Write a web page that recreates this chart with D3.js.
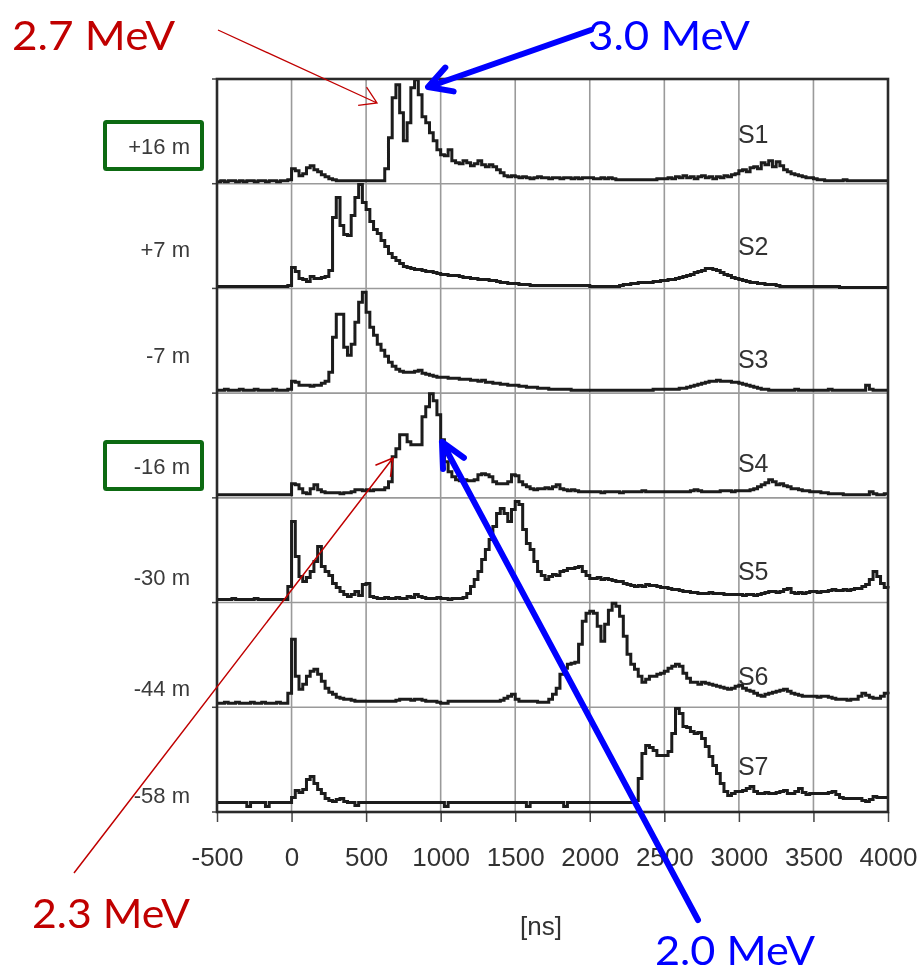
<!DOCTYPE html>
<html>
<head>
<meta charset="utf-8">
<script src="https://cdn.jsdelivr.net/npm/d3@7"></script>
<style>
  html, body { margin: 0; padding: 0; background: #fff; }
  svg { display: block; }
</style>
</head>
<body>
<svg id="chart" width="922" height="976"></svg>
<script>
// ---- data ---------------------------------------------------------------
const stations  = ["S1", "S2", "S3", "S4", "S5", "S6", "S7"];
const distances = ["+16 m", "+7 m", "-7 m", "-16 m", "-30 m", "-44 m", "-58 m"];
const boxedDistances = ["+16 m", "-16 m"];
const timeTicks = [-500, 0, 500, 1000, 1500, 2000, 2500, 3000, 3500, 4000];
const binStart = -500;   // ns, first histogram bin
const binWidth = 25;     // ns per bin

// counts per 25 ns bin, -500 .. 4000 ns (arbitrary units)
const s1 = [
  1,2,1,2,2,1,2,1,2,2,1,2,2,1,2,2,1,2,2,3,
  14,12,7,9,15,17,13,11,8,6,4,3,2,2,2,2,2,2,2,2,
  2,2,2,2,2,14,45,85,98,70,42,60,95,103,88,66,60,50,42,33,
  28,27,33,22,20,19,22,20,17,19,22,18,16,18,16,13,10,7,6,7,
  6,5,6,5,4,5,6,5,5,4,5,5,4,5,5,4,5,4,5,5,
  5,4,4,5,4,5,4,3,3,3,3,3,3,3,3,3,3,3,4,4,
  4,5,4,6,5,7,5,6,4,6,7,5,6,4,6,5,7,6,8,9,
  12,13,11,15,16,14,20,18,22,16,21,17,13,11,9,8,7,6,5,5,
  4,3,3,2,2,2,2,2,3,2,2,2,2,2,2,2,2,2,2,2,
  2
];
const s2 = [
  1,1,1,1,1,1,1,1,1,1,1,1,1,1,1,1,1,1,1,2,
  20,16,9,8,6,11,9,9,10,11,17,70,90,62,53,52,72,90,103,85,
  78,66,58,54,47,41,34,30,27,24,21,20,19,18,18,17,16,16,15,14,
  13,13,12,12,12,11,10,10,9,9,8,8,8,7,7,6,5,5,4,4,
  4,3,3,3,2,2,2,2,2,2,2,2,2,2,2,2,2,2,2,2,
  1,1,1,1,1,1,1,1,2,3,3,4,4,5,5,5,5,6,6,7,
  7,8,8,9,10,11,12,13,15,16,17,19,19,18,17,15,13,12,10,9,
  8,7,6,5,5,4,4,3,3,3,2,1,1,1,1,1,1,1,1,1,
  1,1,1,1,1,1,1,0,0,0,0,0,0,0,0,0,0,0,0,0,
  0
];
const s3 = [
  2,2,3,2,2,2,3,2,2,2,3,2,2,2,2,3,2,2,2,3,
  11,10,7,7,7,6,7,7,9,11,20,55,78,78,45,37,48,70,90,100,
  80,65,57,48,42,36,30,26,23,21,20,20,20,21,22,19,18,17,16,15,
  15,15,14,14,14,13,13,13,12,12,11,12,10,10,9,9,8,8,7,7,
  7,6,6,5,5,5,4,4,4,3,3,3,3,3,3,2,2,2,2,2,
  2,2,2,2,2,2,2,2,2,2,2,2,2,2,2,2,2,3,3,3,
  3,3,3,3,4,4,5,6,7,8,9,10,11,11,12,11,11,11,10,10,
  9,8,7,6,5,4,3,3,2,2,2,2,2,2,2,3,2,2,2,2,
  2,2,2,2,3,2,2,2,2,2,2,2,2,2,7,3,2,2,2,2,
  2
];
const s4 = [
  2,2,2,2,2,2,2,2,2,2,2,2,2,2,2,2,2,2,2,2,
  13,12,8,4,3,8,12,7,5,4,4,4,4,3,4,4,5,7,7,6,
  7,6,7,7,7,9,15,40,48,62,62,55,52,52,52,80,90,103,96,82,
  57,35,25,20,17,16,17,16,16,17,22,23,22,20,15,13,13,13,15,22,
  21,15,12,10,8,7,8,8,9,8,10,12,8,7,6,7,6,5,5,5,
  5,5,5,4,5,5,5,5,4,5,5,5,5,5,6,5,5,5,5,5,
  5,5,5,5,5,5,5,6,7,6,5,5,5,5,5,6,6,6,5,6,
  6,6,6,7,8,10,12,14,17,15,12,13,11,10,8,8,7,6,6,5,
  5,5,4,4,3,3,3,3,2,2,2,2,2,2,2,5,3,2,2,3,
  3
];
const s5 = [
  2,2,2,2,3,2,2,2,2,2,3,2,2,2,2,2,2,2,2,15,
  80,45,25,20,24,30,40,55,35,30,26,18,14,10,7,5,7,10,6,17,
  18,5,4,3,3,4,3,3,4,3,3,5,4,7,5,4,3,3,3,4,
  3,3,2,3,3,3,4,8,15,22,30,42,52,62,75,88,93,88,80,92,
  100,97,72,58,52,40,30,26,22,25,27,26,30,31,33,33,34,35,30,26,
  23,23,24,22,23,22,21,20,20,18,17,16,15,16,15,17,16,16,15,14,
  14,13,12,12,11,10,10,9,9,8,8,8,9,8,8,8,7,7,7,7,
  7,6,7,7,6,7,8,9,10,10,9,10,12,13,9,8,9,8,9,10,
  10,9,10,10,11,12,11,11,12,11,12,13,13,15,17,22,30,25,18,14,
  13
];
const s6 = [
  3,3,4,3,3,4,3,3,3,4,3,3,4,3,3,3,4,3,3,13,
  67,30,17,22,30,35,37,32,25,18,14,12,9,8,7,7,6,5,5,5,
  5,5,5,5,5,5,5,5,6,7,7,7,6,7,7,6,5,5,5,4,
  3,3,5,5,5,5,5,5,5,5,5,5,5,5,5,5,6,8,10,12,
  7,5,5,5,5,5,4,4,4,7,12,18,32,38,42,43,44,62,85,93,
  95,93,80,65,82,96,103,100,90,70,52,42,37,30,24,27,30,30,32,33,
  35,38,40,42,40,33,28,24,24,22,24,23,22,21,20,19,18,17,18,20,
  21,18,16,15,13,11,10,12,13,14,15,16,17,15,13,12,11,10,10,10,
  10,9,10,10,9,8,7,7,7,6,7,7,10,13,11,9,8,8,10,13,
  12
];
const s7 = [
  1,1,1,1,1,1,1,1,-3,1,1,1,1,-3,1,1,1,1,1,1,
  6,13,11,14,24,27,20,14,10,5,3,2,4,5,2,1,1,-2,1,1,
  1,1,1,1,1,1,1,1,1,1,1,1,1,1,1,1,1,1,1,1,
  1,-3,1,1,1,1,1,1,1,1,1,1,1,1,1,1,1,1,1,1,
  1,1,1,-3,1,1,1,1,1,1,1,1,1,-3,1,1,1,1,1,1,
  1,1,1,1,1,1,1,1,1,1,1,1,3,25,50,58,56,53,48,48,
  48,52,70,95,90,77,76,72,70,71,65,57,47,38,30,20,12,8,10,12,
  12,13,15,17,12,10,10,11,10,10,11,12,13,10,10,12,15,11,9,10,
  10,10,10,10,11,12,9,6,5,5,5,5,5,3,2,4,7,6,6,6,
  6
];
const traces = [s1, s2, s3, s4, s5, s6, s7];

// energy call-outs
const energyLabels = ["2.7 MeV", "3.0 MeV", "2.3 MeV", "2.0 MeV"];

// ---- layout -------------------------------------------------------------
const plot = { left: 217, right: 888, top: 79, bottom: 812 };
const baseLift = [1, 1, 1, 1, 1, 1, 8.5];          // trace zero above panel floor
const distanceLabelY = [146, 249, 355, 466, 577, 688, 795];
const stationLabelY  = [143, 255, 368, 472, 580, 685, 775];

const svg = d3.select("#chart");
const defs = svg.append("defs");
defs.append("filter").attr("id", "soft")
  .attr("x", "-5%").attr("y", "-5%").attr("width", "110%").attr("height", "110%")
  .append("feGaussianBlur").attr("stdDeviation", 0.55);

const x = d3.scaleLinear().domain([timeTicks[0], timeTicks[timeTicks.length - 1]])
  .range([plot.left, plot.right]);
const panelEdge = d3.scaleLinear().domain([0, stations.length])
  .range([plot.top, plot.bottom]);

const chart = svg.append("g").attr("filter", "url(#soft)");
const font = "'Liberation Sans', Arial, Helvetica, sans-serif";

// vertical grid
chart.append("g").selectAll("line")
  .data(timeTicks.slice(1, -1))
  .join("line")
  .attr("x1", d => x(d)).attr("x2", d => x(d))
  .attr("y1", plot.top).attr("y2", plot.bottom)
  .attr("stroke", "#9a9a9a").attr("stroke-width", 1.6);

// panel separators
chart.append("g").selectAll("line")
  .data(d3.range(1, stations.length))
  .join("line")
  .attr("x1", plot.left).attr("x2", plot.right)
  .attr("y1", i => panelEdge(i)).attr("y2", i => panelEdge(i))
  .attr("stroke", "#9a9a9a").attr("stroke-width", 1.6);

// bottom axis
const xAxis = d3.axisBottom(x).tickValues(timeTicks)
  .tickSize(10).tickPadding(26).tickSizeOuter(0).tickFormat(d => String(d));
const axisG = chart.append("g")
  .attr("transform", `translate(0,${plot.bottom})`)
  .call(xAxis);
axisG.select(".domain").remove();
axisG.selectAll(".tick line").attr("stroke", "#444").attr("stroke-width", 1.5);
axisG.selectAll(".tick text")
  .attr("fill", "#333").style("font-family", font).style("font-size", "26px");

// small ticks on the left frame
chart.append("g").selectAll("line")
  .data(d3.range(0, stations.length + 1))
  .join("line")
  .attr("x1", plot.left - 5).attr("x2", plot.left)
  .attr("y1", i => panelEdge(i)).attr("y2", i => panelEdge(i))
  .attr("stroke", "#444").attr("stroke-width", 1.5);

// traces
traces.forEach((vals, i) => {
  const base = panelEdge(i + 1) - baseLift[i];
  const y = d3.scaleLinear().domain([0, 100]).range([base, base - 100]);
  const line = d3.line()
    .x((d, j) => x(binStart + j * binWidth))
    .y(d => y(d))
    .curve(d3.curveStepAfter);
  chart.append("path")
    .datum(vals)
    .attr("d", line)
    .attr("fill", "none")
    .attr("stroke", "#1a1a1a")
    .attr("stroke-width", 3)
    .attr("stroke-linejoin", "miter");
});

// frame
chart.append("rect")
  .attr("x", plot.left).attr("y", plot.top)
  .attr("width", plot.right - plot.left).attr("height", plot.bottom - plot.top)
  .attr("fill", "none").attr("stroke", "#2a2a2a").attr("stroke-width", 2.6);

// station labels
chart.append("g").selectAll("text")
  .data(stations)
  .join("text")
  .attr("x", x(3000) - 1)
  .attr("y", (d, i) => stationLabelY[i])
  .attr("fill", "#333")
  .style("font-family", font).style("font-size", "25px")
  .text(d => d);

// distance labels
chart.append("g").selectAll("text")
  .data(distances)
  .join("text")
  .attr("x", 190)
  .attr("y", (d, i) => distanceLabelY[i])
  .attr("text-anchor", "end")
  .attr("dominant-baseline", "central")
  .attr("fill", "#3a3a3a")
  .style("font-family", font).style("font-size", "22px")
  .text(d => d);

// axis title
chart.append("text")
  .attr("x", 541).attr("y", 935)
  .attr("text-anchor", "middle")
  .attr("fill", "#333")
  .style("font-family", font).style("font-size", "26px")
  .text("[ns]");

// ---- overlay: highlight boxes, arrows and energy call-outs --------------
const overlay = svg.append("g");

overlay.selectAll("rect.hl")
  .data(boxedDistances)
  .join("rect")
  .attr("class", "hl")
  .attr("x", 105)
  .attr("y", d => distanceLabelY[distances.indexOf(d)] - 24)
  .attr("width", 97).attr("height", 47)
  .attr("fill", "none")
  .attr("stroke", "#0d6a12").attr("stroke-width", 4)
  .attr("rx", 1.5);

function arrow(from, to, color, width, barb, spread) {
  const ang = Math.atan2(from[1] - to[1], from[0] - to[0]);
  const a1 = ang + spread * Math.PI / 180, a2 = ang - spread * Math.PI / 180;
  const p1 = [to[0] + barb * Math.cos(a1), to[1] + barb * Math.sin(a1)];
  const p2 = [to[0] + barb * Math.cos(a2), to[1] + barb * Math.sin(a2)];
  overlay.append("path")
    .attr("d", `M${from[0]},${from[1]}L${to[0]},${to[1]}M${p1[0]},${p1[1]}L${to[0]},${to[1]}L${p2[0]},${p2[1]}`)
    .attr("fill", "none")
    .attr("stroke", color).attr("stroke-width", width)
    .attr("stroke-linecap", width > 3 ? "round" : "butt")
    .attr("stroke-linejoin", width > 3 ? "round" : "miter");
}

const red = "#c00000", blue = "#0000ff";
arrow([218, 30], [377, 103], red, 1.3, 19, 32);
arrow([591, 30], [428, 87], blue, 6, 26, 29);
arrow([74, 873], [393, 458], red, 1.5, 19, 30);
arrow([698, 920], [442, 442], blue, 6, 27, 26);

const annFont = "Lato, 'Open Sans', sans-serif";
const energyPos = [
  { x: 12,  y: 50,  w: 163, c: red },
  { x: 588, y: 50,  w: 162, c: blue },
  { x: 32,  y: 928, w: 158, c: red },
  { x: 655, y: 965, w: 160, c: blue }
];
overlay.selectAll("text.energy")
  .data(energyLabels)
  .join("text")
  .attr("class", "energy")
  .attr("x", (d, i) => energyPos[i].x)
  .attr("y", (d, i) => energyPos[i].y)
  .attr("textLength", (d, i) => energyPos[i].w)
  .attr("lengthAdjust", "spacingAndGlyphs")
  .attr("fill", (d, i) => energyPos[i].c)
  .style("font-family", annFont).style("font-size", "41px")
  .text(d => d);
</script>
</body>
</html>
